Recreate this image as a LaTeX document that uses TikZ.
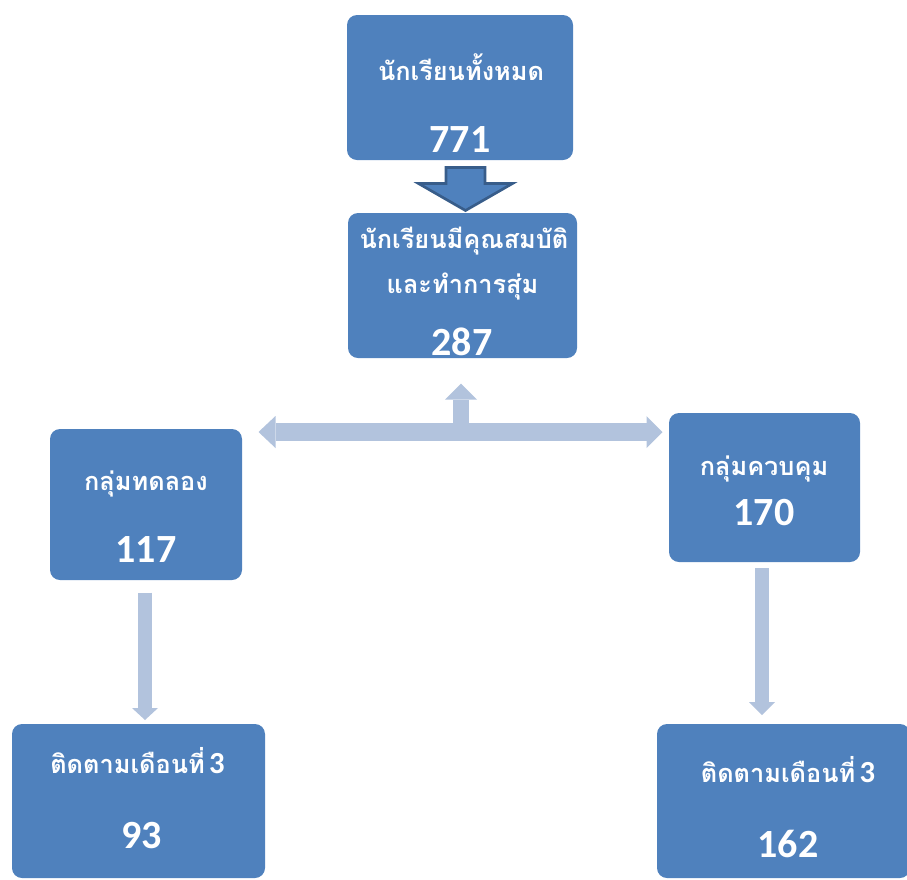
\documentclass[tikz,border=0pt]{standalone}
\usepackage{fontspec}
\usetikzlibrary{arrows.meta,calc}
\newfontfamily\thaifont[Script=Thai]{Loma}
\newfontfamily\numfont{Carlito}
\definecolor{boxblue}{RGB}{79,129,189}
\definecolor{linkblue}{RGB}{178,195,221}
\definecolor{edgeblue}{RGB}{56,93,138}
\tikzset{every picture/.style={line width=0.75pt}}

\begin{document}
\begin{tikzpicture}[
            x=0.75pt,
            y=0.75pt,
            yscale=-1,
            xscale=1,
            box/.style={rounded corners=7.5pt, fill=boxblue, inner sep=0pt},
            thaitxt/.style={text=white, inner sep=0pt, anchor=base, font=\thaifont\bfseries\fontsize{19}{23}\selectfont},
            numtxt/.style={text=white, inner sep=0pt, anchor=base, font=\numfont\bfseries\fontsize{30}{36}\selectfont},
            link/.style={draw=linkblue, line width=13.5pt},
            bigarrow/.style={draw=edgeblue, fill=boxblue, line width=2pt, line join=miter}
        ]
            \clip (0,0) rectangle (907,879);
            % boxes
            \node[box, minimum width=169.5pt, minimum height=108.75pt] (all) at (460,87.5) {};
            \node[box, minimum width=171.75pt, minimum height=108.75pt] (qual) at (462.5,285.5) {};
            \node[box, minimum width=144pt, minimum height=113.25pt] (exp) at (146,504.5) {};
            \node[box, minimum width=143.25pt, minimum height=111.75pt] (ctl) at (764.5,487.5) {};
            \node[box, minimum width=189.75pt, minimum height=115.5pt] (fexp) at (138.5,801) {};
            \node[box, minimum width=189.75pt, minimum height=115.5pt] (fctl) at (783.5,801) {};
            % texts
            \node[thaitxt] (allname) at (461,80) {นักเรียนทั้งหมด};
            \node[numtxt] (allnum) at (460,152) {771};
            \node[thaitxt] (qualname) at (464,248) {นักเรียนมีคุณสมบัติ};
            \node[thaitxt] (qualname2) at (462.5,293) {และทำการสุ่ม};
            \node[numtxt] (qualnum) at (462,355) {287};
            \node[thaitxt] (expname) at (146,490) {กลุ่มทดลอง};
            \node[numtxt] (expnum) at (146,562) {117};
            \node[thaitxt] (ctlname) at (764,475) {กลุ่มควบคุม};
            \node[numtxt] (ctlnum) at (764,525) {170};
            \node[thaitxt] (fexpname) at (137.5,773) {ติดตามเดือนที่\,{\numfont\bfseries\fontsize{23}{27}\selectfont 3}};
            \node[numtxt] (fexpnum) at (141.5,848) {93};
            \node[thaitxt] (fctlname) at (788,782) {ติดตามเดือนที่\,{\numfont\bfseries\fontsize{23}{27}\selectfont 3}};
            \node[numtxt] (fctlnum) at (788,857) {162};
            % block arrow between top boxes
            \draw[bigarrow] ($(all.south)+(-14,7)$) -- ++(39,0) -- ++(0,16) -- ++(27.5,0) -- ++(-47,27) -- ++(-47,-27) -- ++(27.5,0) -- cycle;
            % split arrows
            \coordinate (split) at (461,432);
            \draw[link, line width=13.5pt, {Triangle[width=24pt,length=12.75pt,line width=0pt]}-{Triangle[width=24pt,length=12pt,line width=0pt]}, shorten <=12pt, shorten >=4.5pt] (split -| exp.east) -- (split -| ctl.west);
            \draw[link, line width=12pt, -{Triangle[width=24pt,length=12pt,line width=0pt]}, shorten >=18.75pt] (split) -- (split |- qual.south);
            \draw[link, line width=10.5pt, -{Triangle[width=19.5pt,length=9pt,line width=0pt]}, shorten <=9pt, shorten >=3pt] (exp.south -| 145,0) -- (145,724);
            \draw[link, line width=10pt, -{Triangle[width=19.5pt,length=9.75pt,line width=0pt]}, shorten <=4.5pt, shorten >=6.75pt] (762,562) -- (762,724);
        \end{tikzpicture}
\end{document}
